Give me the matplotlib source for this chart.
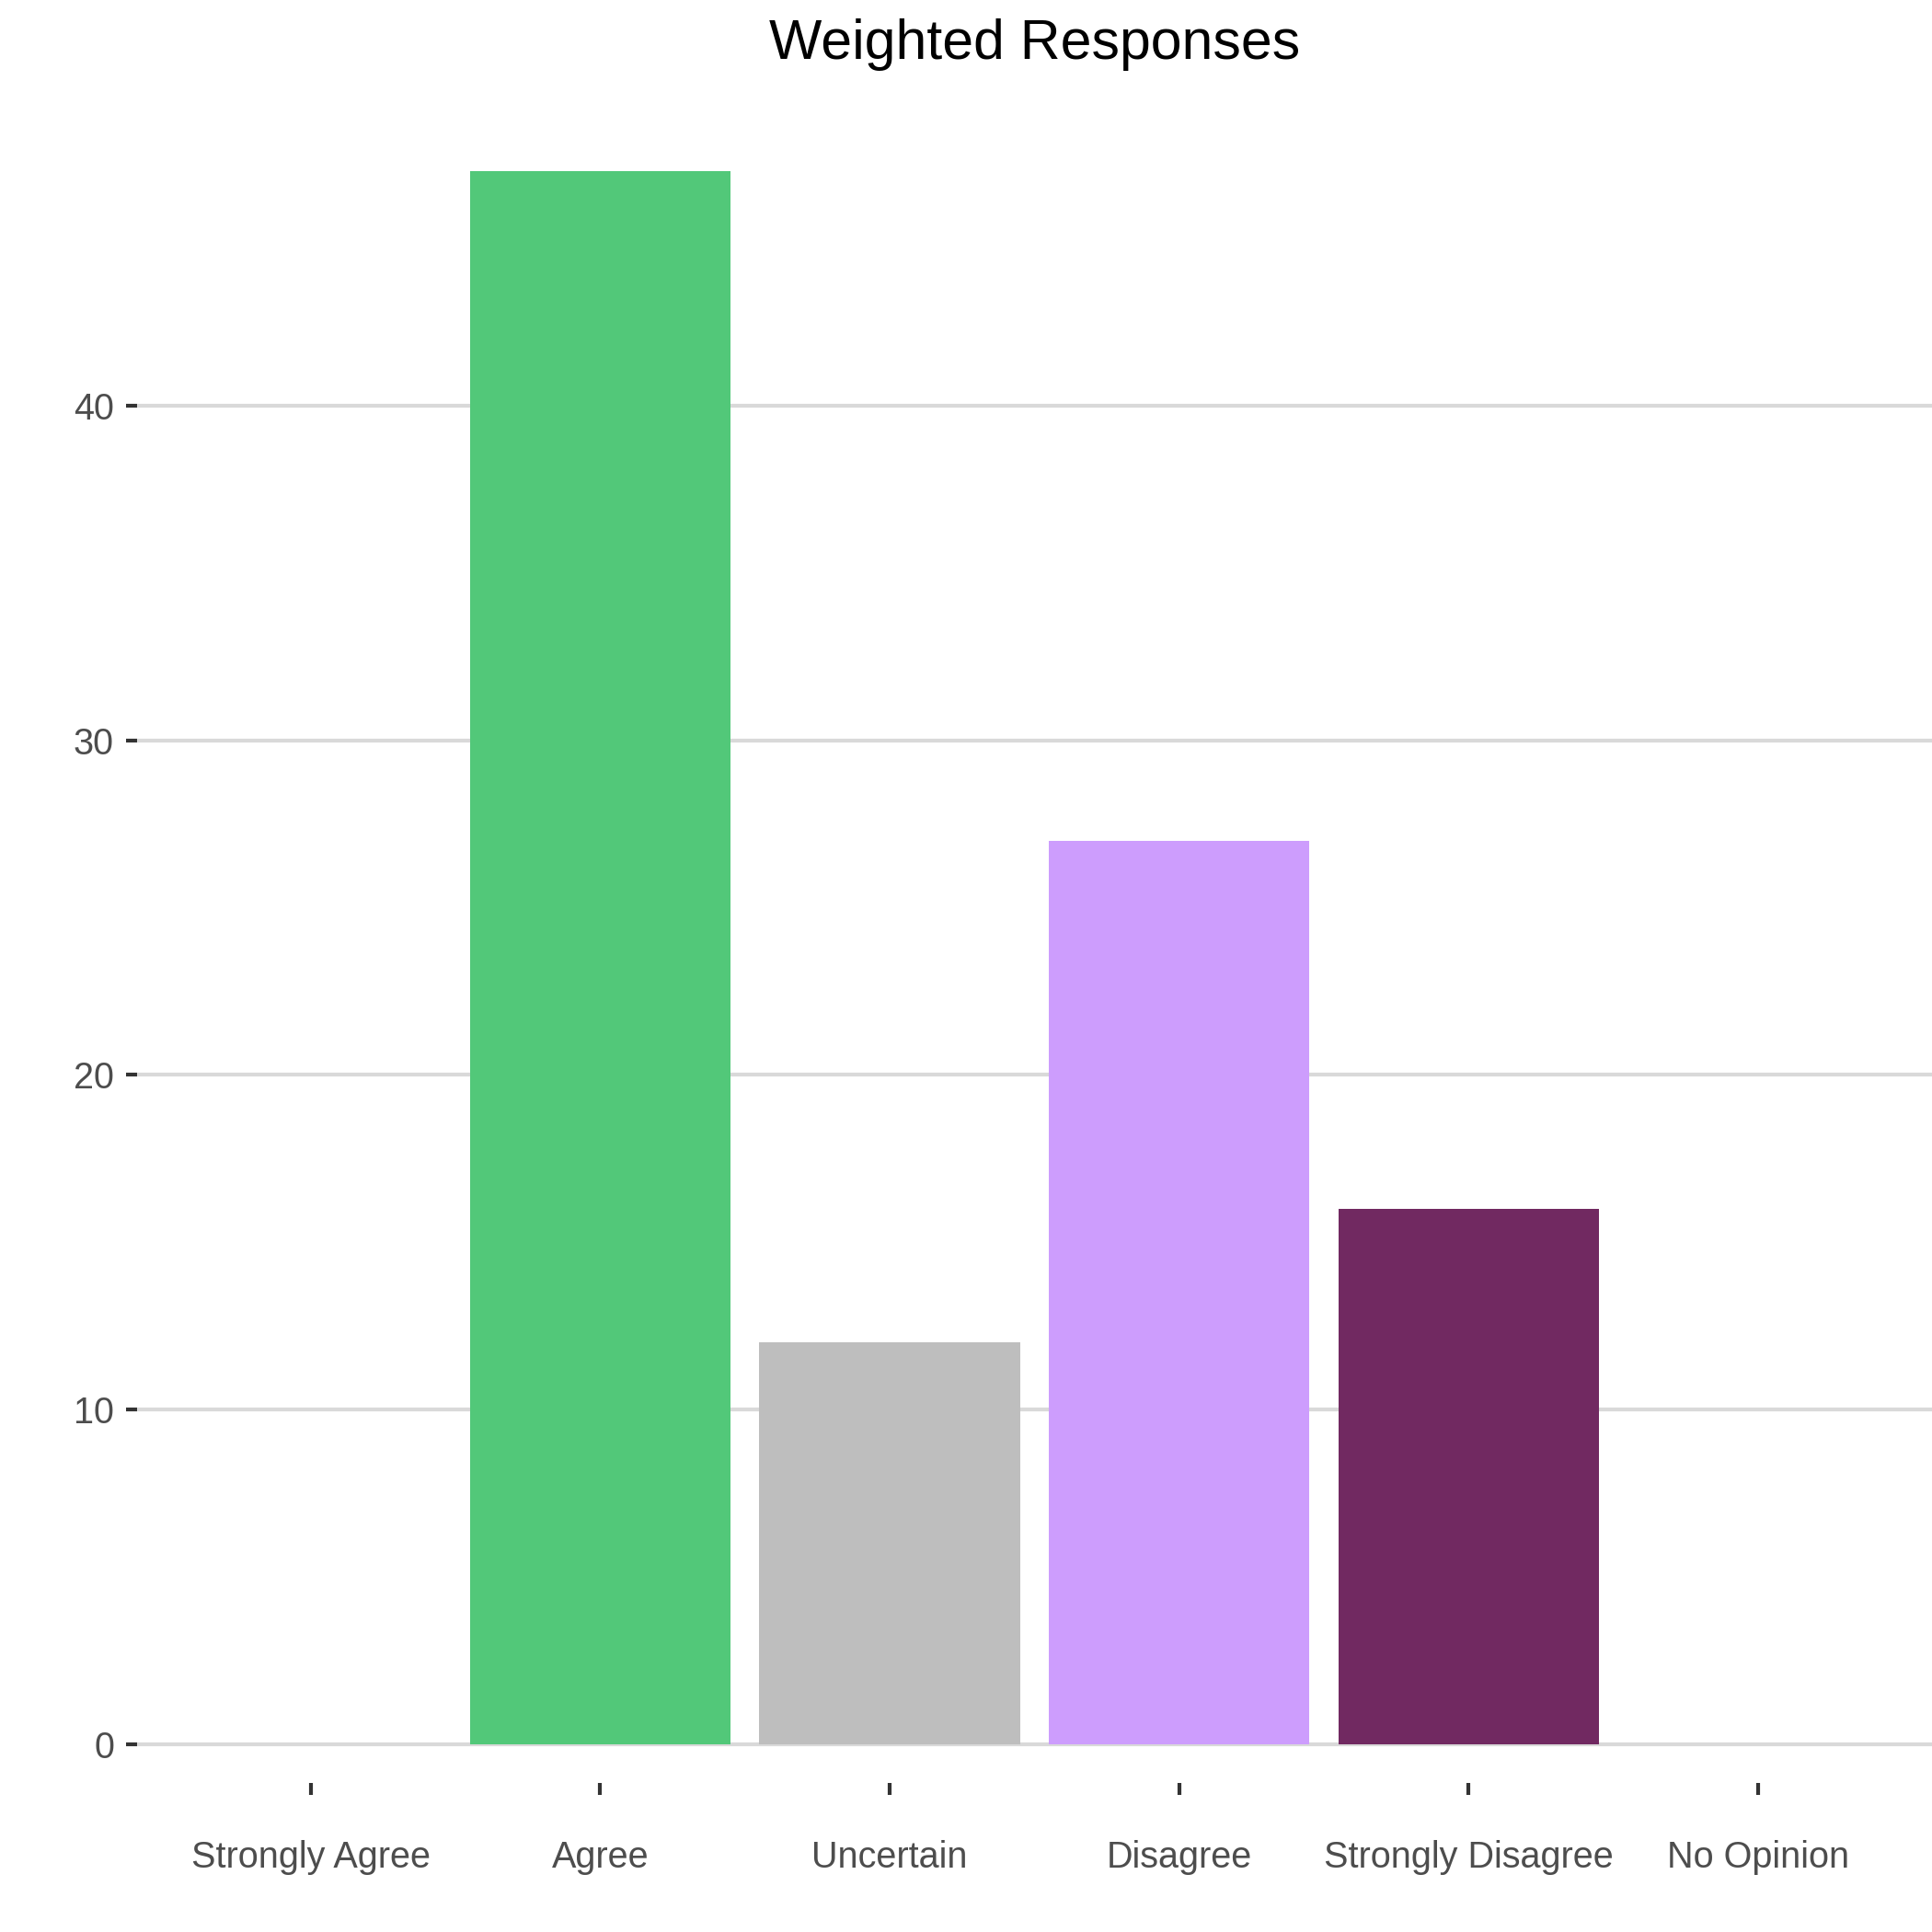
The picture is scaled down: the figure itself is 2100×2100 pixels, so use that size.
import matplotlib
matplotlib.use("Agg")
import matplotlib.pyplot as plt

categories = ["Strongly Agree", "Agree", "Uncertain", "Disagree", "Strongly Disagree", "No Opinion"]
values = [0, 47, 12, 27, 16, 0]
colors = ["#52C879", "#52C879", "#BEBEBE", "#CD9DFD", "#712961", "#BEBEBE"]
yticks = [0, 10, 20, 30, 40]
title = "Weighted Responses"

plt.rcParams['font.family'] = ['Liberation Sans', 'DejaVu Sans']

fig = plt.figure(figsize=(7, 7), dpi=300)
left, bottom, top = 0.0709, 0.0773, 0.9519
ax = fig.add_axes([left, bottom, 1 - left, top - bottom])

x = list(range(len(categories)))
ax.bar(x, values, width=0.9, color=colors, zorder=2)

ax.set_xlim(-0.6, 5.6)
ax.set_ylim(-1.15, 49.35)
ax.set_yticks(yticks)
ax.set_yticklabels([str(v) for v in yticks])
ax.set_xticks(x)
ax.set_xticklabels(categories)

for s in ax.spines.values():
    s.set_visible(False)
ax.grid(axis='y', color='#D9D9D9', linewidth=1.0, zorder=0)
ax.grid(axis='x', visible=False)
ax.set_axisbelow(True)

ax.tick_params(axis='both', colors='#333333', length=3.0, width=1.0,
               labelsize=9.5, labelcolor='#4D4D4D')
ax.tick_params(axis='x', pad=12)
ax.tick_params(axis='y', pad=3)

fig.text(left + (1 - left) / 2, 0.977, title, ha='center', va='center',
         fontsize=14.6, color='black')

fig.savefig("out.png", dpi=300, facecolor='white')
